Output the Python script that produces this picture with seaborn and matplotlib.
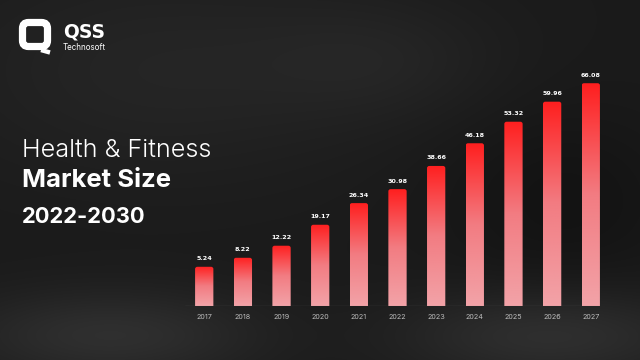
import numpy as np
import pandas as pd
import seaborn as sns
import matplotlib.pyplot as plt
from matplotlib.patches import FancyBboxPatch
from matplotlib.colors import LinearSegmentedColormap

years = ['2017', '2018', '2019', '2020', '2021', '2022', '2023', '2024', '2025', '2026', '2027']
market_size = [5.24, 8.22, 12.22, 19.17, 26.34, 30.98, 38.66, 46.18, 53.32, 59.96, 66.08]
title_lines = ['Health & Fitness', 'Market Size', '2022-2030']

df = pd.DataFrame({'year': years, 'size': market_size})

sns.set_style('dark')
plt.rcParams['font.family'] = ['Inter', 'DejaVu Sans']

fig = plt.figure(figsize=(6.4, 3.6), dpi=100)

# dark smoky background
bg = fig.add_axes([0, 0, 1, 1])
yy, xx = np.mgrid[0:360, 0:640]
lum = (0.105
       + 0.08 * np.exp(-((yy - 335) / 45.0) ** 2) * (0.6 + 0.4 * np.sin(xx / 70.0))
       + 0.04 * np.exp(-(((xx - 160) / 220.0) ** 2 + ((yy - 70) / 110.0) ** 2))
       + 0.03 * np.exp(-(((xx - 380) / 120.0) ** 2 + ((yy - 60) / 60.0) ** 2))
       - 0.03 * np.exp(-(((xx - 560) / 120.0) ** 2 + ((yy - 200) / 90.0) ** 2)))
bg.imshow(np.dstack([lum, lum, lum]).clip(0, 1), extent=(0, 640, 360, 0), aspect='auto')
bg.set_xlim(0, 640)
bg.set_ylim(360, 0)
bg.axis('off')

# logo
bg.add_patch(FancyBboxPatch((22.5, 22.5), 25, 24, boxstyle='round,pad=0,rounding_size=6',
                            fill=False, ec='white', lw=5.2))
bg.plot([41, 50], [50, 52.5], color='white', lw=3.2, solid_capstyle='butt')
bg.text(63, 37.5, 'QSS', color='white', fontsize=13.5, fontweight='bold',
        family=['DejaVu Sans'], ha='left', va='baseline')
bg.text(63, 50, 'Technosoft', color='white', fontsize=5.8, ha='left', va='baseline')

# title
bg.text(22, 157, title_lines[0], color='white', fontsize=18.2, fontweight=300,
        ha='left', va='baseline')
bg.text(22, 187, title_lines[1], color='white', fontsize=18.5, fontweight='bold',
        ha='left', va='baseline')
bg.text(22, 223, title_lines[2], color='white', fontsize=15.8, fontweight='bold',
        ha='left', va='baseline')

# bar chart
base = -7.76
ax = fig.add_axes([0.2889, 0.15, 0.6644, 0.6278])
ax.patch.set_alpha(0)
sns.barplot(data=df, x='year', y='size', width=0.473, color='#ff2020', ax=ax)

cmap = LinearSegmentedColormap.from_list('bar', ['#f2a3a8', '#f27c82', '#ff1f1f'])
grad = np.linspace(0, 1, 256).reshape(-1, 1)
for p, v in zip(ax.patches, market_size):
    x0, w = p.get_x(), p.get_width()
    p.set_visible(False)
    clip = FancyBboxPatch((x0, base - 5), w, v - base + 5,
                          boxstyle='round,pad=0,rounding_size=0.06', mutation_aspect=12,
                          fc='none', ec='none', transform=ax.transData)
    ax.add_patch(clip)
    im = ax.imshow(grad, extent=(x0, x0 + w, base, v), origin='lower', cmap=cmap,
                   aspect='auto', zorder=2)
    im.set_clip_path(clip)
    ax.annotate(f'{v:.2f}', (x0 + w / 2, v), xytext=(0, 4), textcoords='offset points',
                ha='center', va='bottom', color='white', fontsize=4.6, fontweight='bold',
                family=['DejaVu Sans'])

ax.set_xlim(-0.5, 10.5)
ax.set_ylim(base, 67.15)
ax.axhline(base, xmin=0.0, xmax=0.975, color='#8a8a8a', lw=0.8, zorder=3)
ax.set_xlabel('')
ax.set_ylabel('')
ax.set_yticks([])
ax.tick_params(axis='x', length=0, pad=6, labelsize=5.2, labelcolor='#bdbdbd')
for s in ax.spines.values():
    s.set_visible(False)
ax.grid(False)

fig.savefig('out.png', dpi=100)
